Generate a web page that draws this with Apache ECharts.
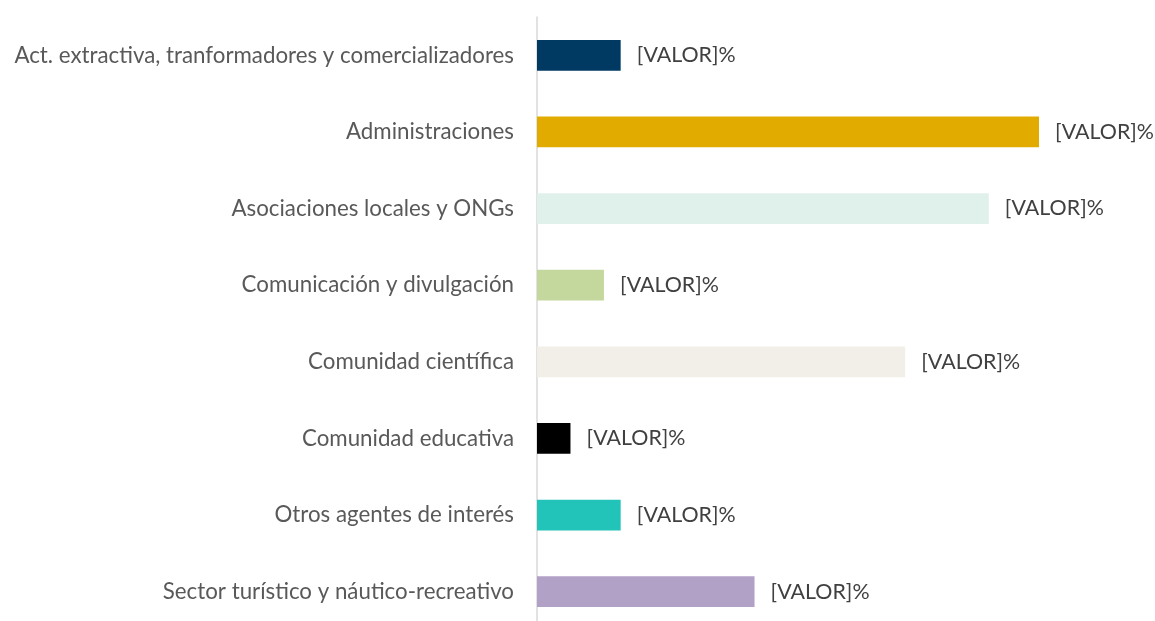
<!DOCTYPE html>
<html>
<head>
<meta charset="utf-8">
<script src="https://cdn.jsdelivr.net/npm/echarts@6/dist/echarts.min.js"></script>
<style>html,body{margin:0;padding:0;background:#fff}#c{width:1155px;height:621px}</style>
</head>
<body>
<div id="c"></div>
<script>
const categories = [
  "Act. extractiva, tranformadores y comercializadores",
  "Administraciones",
  "Asociaciones locales y ONGs",
  "Comunicación y divulgación",
  "Comunidad científica",
  "Comunidad educativa",
  "Otros agentes de interés",
  "Sector turístico y náutico-recreativo"
];
const values = [5, 30, 27, 4, 22, 2, 5, 13];
const barColors = ["#003a63", "#e2ab00", "#e0f0ea", "#c4d89e", "#f2efe9", "#000000", "#22c3b8", "#b1a1c7"];
const labelText = "[VALOR]%";

const chart = echarts.init(document.getElementById('c'), null, {renderer: 'canvas'});
chart.setOption({
  animation: false,
  backgroundColor: '#ffffff',
  grid: {left: 537, right: 116, top: 17, height: 613, containLabel: false, outerBoundsMode: 'none'},
  xAxis: {
    type: 'value', min: 0, max: 30,
    show: false
  },
  yAxis: {
    type: 'category',
    data: categories,
    inverse: true,
    axisLine: {show: true, lineStyle: {color: '#d9d9d9', width: 1.5}},
    axisTick: {show: false},
    axisLabel: {color: '#595959', fontSize: 22.3, fontFamily: 'Lato', margin: 23}
  },
  series: [{
    type: 'bar',
    data: values.map((v, i) => ({value: v, itemStyle: {color: barColors[i]}})),
    barWidth: '40%',
    label: {
      show: true, position: 'right', distance: 16,
      formatter: () => labelText,
      color: '#404040', fontSize: 21.4, fontFamily: 'Lato'
    }
  }]
});
</script>
</body>
</html>
